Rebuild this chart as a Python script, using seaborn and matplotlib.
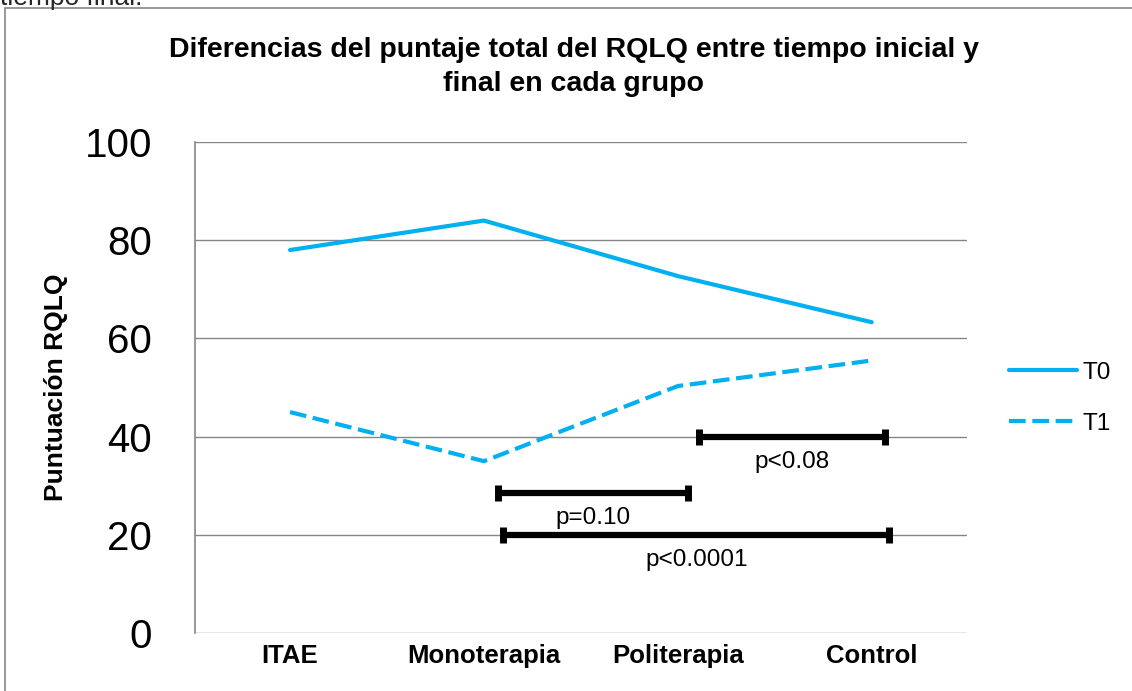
import matplotlib
matplotlib.use("Agg")
import matplotlib.pyplot as plt
import seaborn as sns
import pandas as pd
from matplotlib.patches import Rectangle

# ----- Datos -----
GRUPOS = ["ITAE", "Monoterapia", "Politerapia", "Control"]
T0 = [78.0, 84.0, 72.7, 63.3]
T1 = [45.0, 35.0, 50.3, 55.5]

# comparaciones: (x inicio, x fin, altura, etiqueta)
COMPARACIONES = [
    (2.11, 3.07, 40.0, "p<0.08"),
    (1.07, 2.05, 28.5, "p=0.10"),
    (1.10, 3.09, 20.0, "p<0.0001"),
]

AZUL = "#00B0F0"
GRIS = "#868686"

sns.set_theme(style="white")
plt.rcParams["font.family"] = ["Liberation Sans", "DejaVu Sans"]

df = pd.DataFrame({
    "grupo": GRUPOS * 2,
    "x": list(range(len(GRUPOS))) * 2,
    "valor": T0 + T1,
    "tiempo": ["T0"] * len(T0) + ["T1"] * len(T1),
})

fig = plt.figure(figsize=(11.32, 6.91), dpi=100)
ax = fig.add_axes([0.1723, 0.0839, 0.6817, 0.7106])

sns.lineplot(data=df, x="x", y="valor", style="tiempo", ax=ax,
             color=AZUL, linewidth=3,
             dashes={"T0": "", "T1": (4, 1.6)}, legend=True)

ax.set_xlim(-0.49, 3.49)
ax.set_ylim(0, 100)
ax.set_yticks(range(0, 101, 20))
ax.set_xticks(range(len(GRUPOS)))
ax.set_xticklabels(GRUPOS, fontsize=18.5, fontweight="bold")
ax.tick_params(axis="y", labelsize=29, pad=31, length=0, labelcolor="black")
ax.tick_params(axis="x", pad=8, length=0, labelcolor="black")
ax.yaxis.grid(True, color=GRIS, linewidth=1)
ax.set_axisbelow(True)
for lado in ["top", "right", "bottom"]:
    ax.spines[lado].set_visible(False)
ax.spines["left"].set_color(GRIS)
ax.spines["left"].set_linewidth(1.2)
ax.set_xlabel("")
ax.set_ylabel("Puntuación RQLQ", fontsize=19, fontweight="bold",
              labelpad=12, color="black")

# barras de significancia
for x0, x1, y, texto in COMPARACIONES:
    ax.plot([x0, x1], [y, y], color="black", linewidth=4.5,
            solid_capstyle="butt", zorder=4)
    ax.plot([x0, x1], [y, y], linestyle="none", marker="|", color="black",
            markersize=12, markeredgewidth=5, zorder=4)
    ax.annotate(texto, xy=((x0 + x1) / 2, y), xytext=(0, -10),
                textcoords="offset points", ha="center", va="top",
                fontsize=17.5, color="black")

leg = ax.legend(frameon=False, fontsize=17.5, handlelength=2.8,
                labelspacing=1.2, handletextpad=0.2,
                loc="center left", bbox_to_anchor=(1.027, 0.478))
for h in leg.get_lines():
    h.set_linewidth(3)
for t in leg.get_texts():
    t.set_color("black")

fig.suptitle("Diferencias del puntaje total del RQLQ entre tiempo inicial y\n"
             "final en cada grupo", x=0.507, y=0.947, fontsize=20.5,
             fontweight="bold", linespacing=1.4, color="black")

# marco del grafico y texto cortado arriba
fig.patches.append(Rectangle((5 / 1132, -0.05), 1.2, 1 - 8 / 691 + 0.05,
                             transform=fig.transFigure, fill=False,
                             edgecolor=GRIS, linewidth=1.2))
fig.text(0.0, 1 - 5 / 691, "tiempo final.", fontsize=19, va="baseline",
         ha="left")

fig.savefig("out.png", dpi=100)
